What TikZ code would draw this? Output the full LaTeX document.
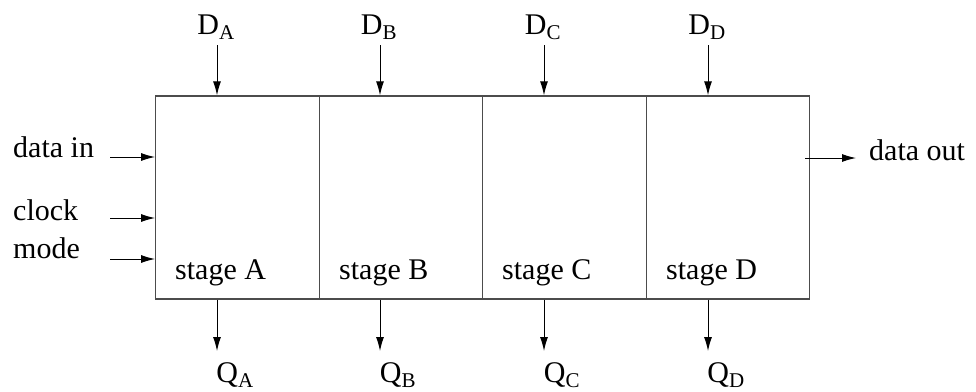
\documentclass[tikz,border=0pt]{standalone}
\usepackage{fontspec}
\setmainfont{Liberation Serif}
\usetikzlibrary{arrows.meta}
\begin{document}
\begin{tikzpicture}[x=1pt,y=-1pt,
  font=\fontsize{30}{34}\selectfont,
  stagebox/.style={draw=black!70,line width=1.4pt,minimum width=163.5pt,minimum height=203pt,inner sep=0pt},
  arr/.style={-{Latex[length=14pt,width=8pt]},line width=1pt,black},
  lbl/.style={inner sep=0pt}]
\useasboundingbox (0,0) rectangle (976,391);
% stages
\node[stagebox] (sA) at (237.5,197.5) {};
\node[stagebox] (sB) at (401,197.5) {};
\node[stagebox] (sC) at (564.5,197.5) {};
\node[stagebox] (sD) at (728,197.5) {};
\node[lbl,anchor=base west] (lA) at (175,279) {stage A};
\node[lbl,anchor=base west] (lB) at (339,279) {stage B};
\node[lbl,anchor=base west] (lC) at (502,279) {stage C};
\node[lbl,anchor=base west] (lD) at (666,279) {stage D};
% D inputs
\node[lbl,anchor=base] (DA) at (216,34) {D\textsubscript{A}};
\node[lbl,anchor=base] (DB) at (379,34) {D\textsubscript{B}};
\node[lbl,anchor=base] (DC) at (543,34) {D\textsubscript{C}};
\node[lbl,anchor=base] (DD) at (707,34) {D\textsubscript{D}};
\coordinate (tA) at (217,45);
\coordinate (tB) at (380,45);
\coordinate (tC) at (544,45);
\coordinate (tD) at (708,45);
\draw[arr] (tA) -- (tA |- sA.north);
\draw[arr] (tB) -- (tB |- sB.north);
\draw[arr] (tC) -- (tC |- sC.north);
\draw[arr] (tD) -- (tD |- sD.north);
% Q outputs
\node[lbl,anchor=base] (QA) at (235,382) {Q\textsubscript{A}};
\node[lbl,anchor=base] (QB) at (398,382) {Q\textsubscript{B}};
\node[lbl,anchor=base] (QC) at (562,382) {Q\textsubscript{C}};
\node[lbl,anchor=base] (QD) at (726,382) {Q\textsubscript{D}};
\coordinate (bA) at (217,351);
\coordinate (bB) at (380,351);
\coordinate (bC) at (544,351);
\coordinate (bD) at (708,351);
\draw[arr] (bA |- sA.south) -- (bA);
\draw[arr] (bB |- sB.south) -- (bB);
\draw[arr] (bC |- sC.south) -- (bC);
\draw[arr] (bD |- sD.south) -- (bD);
% left inputs
\node[lbl,anchor=base west] (din) at (13,157) {data in};
\node[lbl,anchor=base west] (clk) at (13,220) {clock};
\node[lbl,anchor=base west] (mode) at (13,258) {mode};
\coordinate (iA) at (110,157);
\coordinate (iB) at (110,218);
\coordinate (iC) at (110,259);
\draw[arr] (iA) -- (iA -| sA.west);
\draw[arr] (iB) -- (iB -| sA.west);
\draw[arr] (iC) -- (iC -| sA.west);
% output
\node[lbl,anchor=base west] (dout) at (869,160) {data out};
\coordinate (oA) at (805,158);
\coordinate (oB) at (856,158);
\draw[arr] (oA) -- (oB);
\end{tikzpicture}
\end{document}
